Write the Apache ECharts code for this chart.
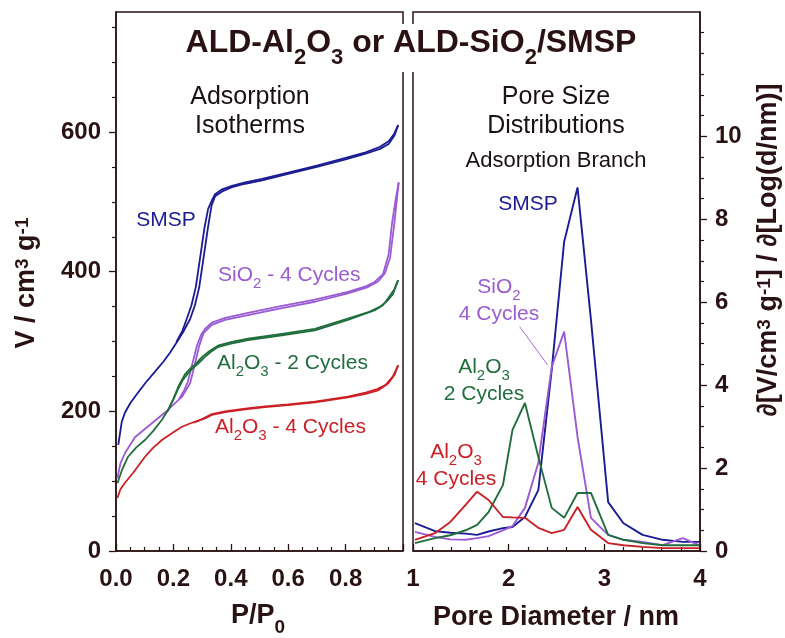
<!DOCTYPE html>
<html>
<head>
<meta charset="utf-8">
<title>ALD-Al2O3 or ALD-SiO2/SMSP</title>
<script src="https://cdn.jsdelivr.net/npm/echarts@6.0.0/dist/echarts.min.js"></script>
<style>
  html, body { margin: 0; padding: 0; background: #fff; }
  #chart { width: 785px; height: 638px; }
</style>
</head>
<body>
<div id="chart"></div>
<script>
// ---- adsorption isotherms (P/P0, V in cm3/g), adsorption + desorption branch ----
const smspAdsP = [0.008, 0.02, 0.031, 0.05, 0.077, 0.105, 0.136, 0.165, 0.188, 0.21, 0.233, 0.258, 0.275, 0.29, 0.305, 0.32, 0.333, 0.345, 0.37, 0.404, 0.45, 0.509, 0.6, 0.7, 0.8, 0.87, 0.92, 0.95, 0.97, 0.983];
const smspAdsV = [152, 185, 198, 212, 227, 242, 257, 271, 284, 298, 313, 332, 352, 378, 420, 462, 495, 508, 515, 521, 526, 531, 540, 550, 561, 569, 576, 583, 595, 610];
const smspDesP = [0.983, 0.97, 0.95, 0.92, 0.87, 0.8, 0.7, 0.6, 0.509, 0.45, 0.404, 0.37, 0.345, 0.335, 0.321, 0.308, 0.293, 0.278, 0.263, 0.247, 0.232, 0.21];
const smspDesV = [610, 598, 587, 579, 571, 563, 552, 542, 533, 528, 523, 518, 511, 503, 490, 462, 420, 378, 352, 333, 316, 299];

const si4AdsP = [0.005, 0.015, 0.031, 0.066, 0.125, 0.181, 0.23, 0.258, 0.275, 0.29, 0.305, 0.334, 0.38, 0.46, 0.578, 0.693, 0.808, 0.878, 0.913, 0.937, 0.955, 0.97, 0.985];
const si4AdsV = [104, 125, 140, 163, 183, 202, 221, 240, 268, 294, 312, 324, 331, 338, 348, 357, 369, 378, 386, 398, 420, 470, 528];
const si4DesP = [0.985, 0.975, 0.962, 0.95, 0.93, 0.9, 0.87, 0.808, 0.693, 0.578, 0.46, 0.38, 0.334, 0.31, 0.297, 0.282, 0.266, 0.25, 0.235, 0.22];
const si4DesV = [528, 505, 470, 425, 396, 385, 379, 371, 360, 351, 341, 334, 327, 318, 310, 294, 268, 242, 228, 218];

const al2AdsP = [0.005, 0.02, 0.042, 0.07, 0.101, 0.13, 0.16, 0.18, 0.199, 0.215, 0.233, 0.25, 0.268, 0.29, 0.31, 0.33, 0.355, 0.4, 0.46, 0.578, 0.693, 0.808, 0.902, 0.93, 0.948, 0.97, 0.983];
const al2AdsV = [97, 115, 135, 148, 159, 172, 188, 201, 216, 231, 245, 254, 262, 270, 278, 285, 292, 297, 302, 309, 316, 331, 345, 352, 362, 375, 388];
const al2DesP = [0.983, 0.965, 0.945, 0.92, 0.88, 0.808, 0.693, 0.578, 0.46, 0.4, 0.355, 0.325, 0.3, 0.278, 0.26, 0.24, 0.22, 0.2, 0.18];
const al2DesV = [388, 368, 358, 350, 342, 333, 318, 311, 304, 299, 294, 286, 278, 268, 262, 253, 238, 218, 200];

const al4AdsP = [0.005, 0.015, 0.03, 0.06, 0.101, 0.13, 0.16, 0.2, 0.23, 0.26, 0.29, 0.31, 0.334, 0.38, 0.45, 0.519, 0.6, 0.693, 0.808, 0.87, 0.913, 0.948, 0.97, 0.983];
const al4AdsV = [76, 88, 97, 112, 135, 148, 159, 170, 178, 183, 187, 190, 195, 199, 203, 206, 209, 213, 220, 225, 230, 240, 252, 266];
const al4DesP = [0.983, 0.965, 0.94, 0.91, 0.87, 0.808, 0.693, 0.6, 0.519, 0.45, 0.38, 0.334, 0.31, 0.29, 0.27];
const al4DesV = [266, 250, 238, 232, 227, 221, 214, 210, 207, 204, 200, 196, 191, 187, 184];

// ---- pore size distributions (adsorption branch) ----
const poreD = [1.02, 1.23, 1.39, 1.55, 1.67, 1.79, 1.94, 2.04, 2.17, 2.31, 2.45, 2.58, 2.72, 2.86, 3.04, 3.2, 3.4, 3.61, 3.82, 3.99];
const psdSmsp = [0.67, 0.48, 0.44, 0.42, 0.39, 0.47, 0.55, 0.58, 0.82, 1.47, 4.37, 7.46, 8.77, 5.58, 1.18, 0.67, 0.39, 0.27, 0.22, 0.22];
const psdSi4 = [0.46, 0.34, 0.28, 0.27, 0.31, 0.36, 0.5, 0.6, 1.04, 2.13, 4.44, 5.29, 2.75, 0.8, 0.39, 0.27, 0.22, 0.14, 0.31, 0.14];
const psdAl2 = [0.19, 0.31, 0.38, 0.5, 0.63, 0.94, 1.59, 2.92, 3.57, 2.27, 1.04, 0.8, 1.4, 1.4, 0.39, 0.27, 0.19, 0.14, 0.14, 0.14];
const psdAl4 = [0.27, 0.43, 0.7, 1.11, 1.43, 1.23, 0.82, 0.81, 0.8, 0.56, 0.43, 0.51, 1.06, 0.51, 0.19, 0.14, 0.1, 0.07, 0.07, 0.07];
// leader line from the "SiO2 4 Cycles" label to its peak
const pointerD = [2.115, 2.406];
const pointerY = [5.41, 4.49];

// ---- ticks ----
const pTicks = [0, 0.2, 0.4, 0.6, 0.8];
const vTicks = [0, 200, 400, 600];
const dTicks = [1, 2, 3, 4];
const psdTicks = [0, 2, 4, 6, 8, 10];

const vMax = 772;
const psdMax = 13;

const BLUE = '#1b1b92';
const PURPLE = '#9a5bd3';
const GREEN = '#1f6e3c';
const RED = '#cc2027';
const INK = '#2a1214';
const FONT = "'Liberation Sans', Arial, Helvetica, sans-serif";

const zip = (xs, ys) => xs.map((x, i) => [x, ys[i]]);

const vMinor = [];
for (let v = 50; v < vMax; v += 50) if (v % 200) vMinor.push(v);
const psdMinor = [];
for (let v = 0.5; v < psdMax; v += 0.5) if (v > 10 || v % 2) psdMinor.push(v);

function iso(name, p, v, color) {
  return {
    name, type: 'line', xAxisIndex: 0, yAxisIndex: 0,
    data: zip(p, v), showSymbol: false, symbol: 'none', silent: true,
    lineStyle: { color, width: 1.8 }, z: 3
  };
}
function psd(name, y, color) {
  return {
    name, type: 'line', xAxisIndex: 1, yAxisIndex: 2,
    data: zip(poreD, y), showSymbol: false, symbol: 'none', silent: true,
    lineStyle: { color, width: 1.9 }, z: 3
  };
}

// text with {n|normal} {s|subscript} {u|superscript} pieces
function txt(x, y, text, size, color, opts) {
  opts = opts || {};
  const w = opts.bold ? 'bold' : 'normal';
  const small = Math.round(size * 0.7);
  const base = { fontSize: size, fontWeight: w, fontFamily: FONT, fill: color, color };
  return {
    type: 'text', x, y, rotation: opts.rotation || 0, z: 100, silent: true,
    style: Object.assign({
      text,
      align: opts.align || 'center', verticalAlign: 'middle',
      textAlign: opts.align || 'center', textVerticalAlign: 'middle',
      font: w + ' ' + size + 'px ' + FONT,
      fill: color,
      rich: {
        n: Object.assign({}, base, { verticalAlign: 'top', lineHeight: Math.round(size * 1.15) }),
        s: Object.assign({}, base, { fontSize: small, verticalAlign: 'top',
          padding: [Math.round(1.2 * size - 0.85 * small), 0, 0, 0] }),
        u: Object.assign({}, base, { fontSize: small, verticalAlign: 'top', padding: [0, 0, 0, 0] })
      }
    }, opts.bg ? { backgroundColor: opts.bg, padding: [3, 5] } : {})
  };
}

const labelStyle = { color: INK, fontSize: 24, fontWeight: 'bold', fontFamily: FONT };

const chart = echarts.init(document.getElementById('chart'));

chart.setOption({
  animation: false,
  backgroundColor: '#fff',
  grid: [
    { left: 116, top: 12, width: 287, height: 539, show: true, borderColor: INK, borderWidth: 1.5, backgroundColor: 'transparent' },
    { left: 413, top: 12, width: 287, height: 539, show: true, borderColor: INK, borderWidth: 1.5, backgroundColor: 'transparent' }
  ],
  xAxis: [
    {
      type: 'value', gridIndex: 0, min: 0, max: 1, interval: 0.2,
      axisLine: { lineStyle: { color: INK, width: 1.5 } },
      axisTick: { inside: true, length: 7, lineStyle: { color: INK, width: 1.3 } },
      minorTick: { show: true, splitNumber: 4, length: 4, lineStyle: { color: INK, width: 1.2 } },
      axisLabel: Object.assign({ customValues: pTicks, margin: 16, formatter: v => v.toFixed(1) }, labelStyle),
      splitLine: { show: false }
    },
    {
      type: 'value', gridIndex: 1, min: 1, max: 4, interval: 1,
      axisLine: { lineStyle: { color: INK, width: 1.5 } },
      axisTick: { inside: true, length: 7, lineStyle: { color: INK, width: 1.3 } },
      minorTick: { show: true, splitNumber: 5, length: 4, lineStyle: { color: INK, width: 1.2 } },
      axisLabel: Object.assign({ customValues: dTicks, margin: 16 }, labelStyle),
      splitLine: { show: false }
    }
  ],
  yAxis: [
    {
      type: 'value', gridIndex: 0, min: 0, max: vMax, position: 'left',
      axisLine: { show: true, lineStyle: { color: INK, width: 1.5 } },
      axisTick: { show: true, customValues: vTicks, length: 7, lineStyle: { color: INK, width: 1.3 } },
      axisLabel: Object.assign({ customValues: vTicks, margin: 15 }, labelStyle),
      splitLine: { show: false }
    },
    {
      type: 'value', gridIndex: 0, min: 0, max: vMax, position: 'left',
      axisLine: { show: false },
      axisTick: { show: true, customValues: vMinor, length: 4, lineStyle: { color: INK, width: 1.2 } },
      axisLabel: { show: false },
      splitLine: { show: false }
    },
    {
      type: 'value', gridIndex: 1, min: 0, max: psdMax, position: 'right',
      axisLine: { show: true, lineStyle: { color: INK, width: 1.5 } },
      axisTick: { show: true, customValues: psdTicks, length: 7, lineStyle: { color: INK, width: 1.3 } },
      axisLabel: Object.assign({ customValues: psdTicks, margin: 15 }, labelStyle),
      splitLine: { show: false }
    },
    {
      type: 'value', gridIndex: 1, min: 0, max: psdMax, position: 'right',
      axisLine: { show: false },
      axisTick: { show: true, customValues: psdMinor, length: 4, lineStyle: { color: INK, width: 1.2 } },
      axisLabel: { show: false },
      splitLine: { show: false }
    }
  ],
  series: [
    iso('SMSP ads', smspAdsP, smspAdsV, BLUE),
    iso('SMSP des', smspDesP, smspDesV, BLUE),
    iso('SiO2 4 ads', si4AdsP, si4AdsV, PURPLE),
    iso('SiO2 4 des', si4DesP, si4DesV, PURPLE),
    iso('Al2O3 2 ads', al2AdsP, al2AdsV, GREEN),
    iso('Al2O3 2 des', al2DesP, al2DesV, GREEN),
    iso('Al2O3 4 ads', al4AdsP, al4AdsV, RED),
    iso('Al2O3 4 des', al4DesP, al4DesV, RED),
    psd('SMSP', psdSmsp, BLUE),
    psd('SiO2 4', psdSi4, PURPLE),
    psd('Al2O3 2', psdAl2, GREEN),
    psd('Al2O3 4', psdAl4, RED),
    {
      name: 'pointer', type: 'line', xAxisIndex: 1, yAxisIndex: 2,
      data: zip(pointerD, pointerY), showSymbol: false, symbol: 'none', silent: true,
      lineStyle: { color: PURPLE, width: 0.9 }, z: 3
    }
  ],
  graphic: [
    txt(411, 48, '{n|ALD-Al}{s|2}{n|O}{s|3}{n| or ALD-SiO}{s|2}{n|/SMSP}', 32, INK, { bold: true, bg: '#fff' }),
    txt(250, 114, '{n|Adsorption}\n{n|Isotherms}', 25, '#1c1012'),
    txt(556, 114, '{n|Pore Size}\n{n|Distributions}', 25, '#1c1012'),
    txt(556, 162, '{n|Adsorption Branch}', 22, '#1c1012'),

    txt(166, 222, '{n|SMSP}', 21, BLUE),
    txt(218, 278, '{n|SiO}{s|2}{n| - 4 Cycles}', 21, PURPLE, { align: 'left' }),
    txt(217, 366, '{n|Al}{s|2}{n|O}{s|3}{n| - 2 Cycles}', 21, GREEN, { align: 'left' }),
    txt(215, 430, '{n|Al}{s|2}{n|O}{s|3}{n| - 4 Cycles}', 21, RED, { align: 'left' }),

    txt(528, 206, '{n|SMSP}', 21, BLUE),
    txt(499, 302, '{n|SiO}{s|2}\n{n|4 Cycles}', 21, PURPLE),
    txt(484, 382, '{n|Al}{s|2}{n|O}{s|3}\n{n|2 Cycles}', 21, GREEN),
    txt(456, 467, '{n|Al}{s|2}{n|O}{s|3}\n{n|4 Cycles}', 21, RED),

    txt(258, 620, '{n|P/P}{s|0}', 27, INK, { bold: true }),
    txt(556, 620, '{n|Pore Diameter / nm}', 27, INK, { bold: true }),
    txt(29, 283, '{n|V / cm}{u|3}{n| g}{u|-1}', 27, INK, { bold: true, rotation: Math.PI / 2 }),
    txt(771, 250, '{n|∂[V/cm}{u|3}{n| g}{u|-1}{n|] / ∂[Log(d/nm)]}', 27, INK, { bold: true, rotation: Math.PI / 2 })
  ]
});
</script>
</body>
</html>
